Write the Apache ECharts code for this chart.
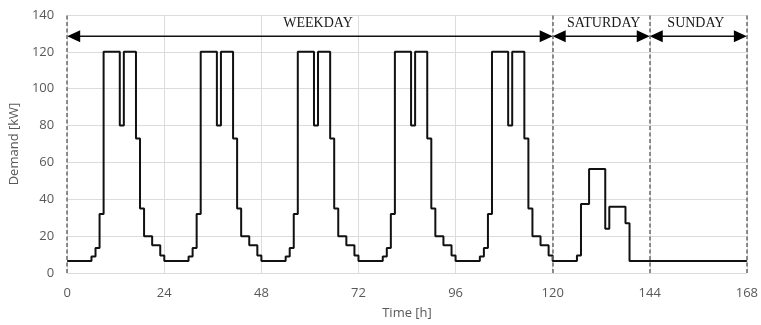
<!DOCTYPE html>
<html>
<head>
<meta charset="utf-8">
<script src="https://cdn.jsdelivr.net/npm/echarts@6/dist/echarts.min.js"></script>
<style>html,body{margin:0;padding:0;background:#fff;}#c{width:761px;height:325px;}</style>
</head>
<body>
<div id="c"></div>
<script>
// Hourly demand profiles [kW], hour 0..23
var weekdayProfile = [6.5,6.5,6.5,6.5,6.5,6.5,9,13.5,32,120,120,120,120,80,120,120,120,73,35,20,20,15,15,9.5];
var saturdayProfile = [6.5,6.5,6.5,6.5,6.5,6.5,9.5,37.5,37.5,56.5,56.5,56.5,56.5,24,36,36,36,36,27,6.5,6.5,6.5,6.5,6.5];
var sundayProfile = [6.5,6.5,6.5,6.5,6.5,6.5,6.5,6.5,6.5,6.5,6.5,6.5,6.5,6.5,6.5,6.5,6.5,6.5,6.5,6.5,6.5,6.5,6.5,6.5];
var dayProfiles = [weekdayProfile, weekdayProfile, weekdayProfile, weekdayProfile, weekdayProfile, saturdayProfile, sundayProfile];
var xTicks = [0,24,48,72,96,120,144,168];
var yTicks = [0,20,40,60,80,100,120,140];
var dividers = [0,120,144,168];
var periodStart = [0,120,144];
var periodEnd = [120,144,168];
var periodLabel = ['WEEKDAY','SATURDAY','SUNDAY'];
var periodLabelPos = [62,132.6,155.4];
var arrowLevel = 128.5;
var labelLevel = 135.5;

var hourly = [];
dayProfiles.forEach(function(p){ p.forEach(function(v){ hourly.push(v); }); });
var lineData = hourly.map(function(v,i){ return [i, v]; });
lineData.push([hourly.length, hourly[hourly.length-1]]);

var periods = periodStart.map(function(s,i){ return [s, periodEnd[i], periodLabelPos[i], i]; });

var chart = echarts.init(document.getElementById('c'), null, {renderer:'canvas'});
var axisFont = {fontFamily:'Open Sans', fontSize:13, color:'#595959'};
chart.setOption({
  animation:false,
  grid:{left:65, right:11, top:15, bottom:49},
  xAxis:{
    type:'value', min:0, max:168, interval:24,
    name:'Time [h]', nameLocation:'middle', nameGap:34,
    nameTextStyle:{fontFamily:'Open Sans', fontSize:13, color:'#595959'},
    axisLine:{show:false}, axisTick:{show:false},
    axisLabel:Object.assign({margin:14, formatter:function(v){ return xTicks.indexOf(v)>=0 ? String(v) : ''; }}, axisFont),
    splitLine:{show:true, lineStyle:{color:'#dcdcdc', width:1}}
  },
  yAxis:{
    type:'value', min:0, max:140, interval:20,
    name:'Demand [kW]', nameLocation:'middle', nameGap:36,
    nameTextStyle:{fontFamily:'Open Sans', fontSize:13, color:'#595959'},
    axisLine:{show:false}, axisTick:{show:false},
    axisLabel:Object.assign({margin:13, formatter:function(v){ return yTicks.indexOf(v)>=0 ? String(v) : ''; }}, axisFont),
    splitLine:{show:true, lineStyle:{color:'#dcdcdc', width:1}}
  },
  series:[
    {
      type:'line', step:'end', data:lineData, showSymbol:false, symbol:'none',
      lineStyle:{color:'#111', width:2}, z:3,
      markLine:{
        silent:true, symbol:['none','none'], label:{show:false},
        lineStyle:{color:'#6a6a6a', type:[4,2.5], width:1.5},
        data: dividers.map(function(d){ return {xAxis:d}; })
      }
    },
    {
      type:'custom', data:periods, z:4,
      renderItem:function(params, api){
        var s = api.coord([api.value(0), arrowLevel]);
        var e = api.coord([api.value(1), arrowLevel]);
        var t = api.coord([api.value(2), labelLevel]);
        var idx = api.value(3);
        var L = 13, H = 6;
        return {type:'group', children:[
          {type:'line', shape:{x1:s[0]+L-1, y1:s[1], x2:e[0]-L+1, y2:e[1]}, style:{stroke:'#111', lineWidth:1.5}},
          {type:'polygon', shape:{points:[[s[0],s[1]],[s[0]+L,s[1]-H],[s[0]+L,s[1]+H]]}, style:{fill:'#000'}},
          {type:'polygon', shape:{points:[[e[0],e[1]],[e[0]-L,e[1]-H],[e[0]-L,e[1]+H]]}, style:{fill:'#000'}},
          {type:'text', x:t[0], y:t[1], style:{text:periodLabel[idx], fontFamily:'Liberation Serif', fontSize:14, fill:'#1a1a1a', align:'center', verticalAlign:'middle'}}
        ]};
      }
    }
  ]
});
</script>
</body>
</html>
